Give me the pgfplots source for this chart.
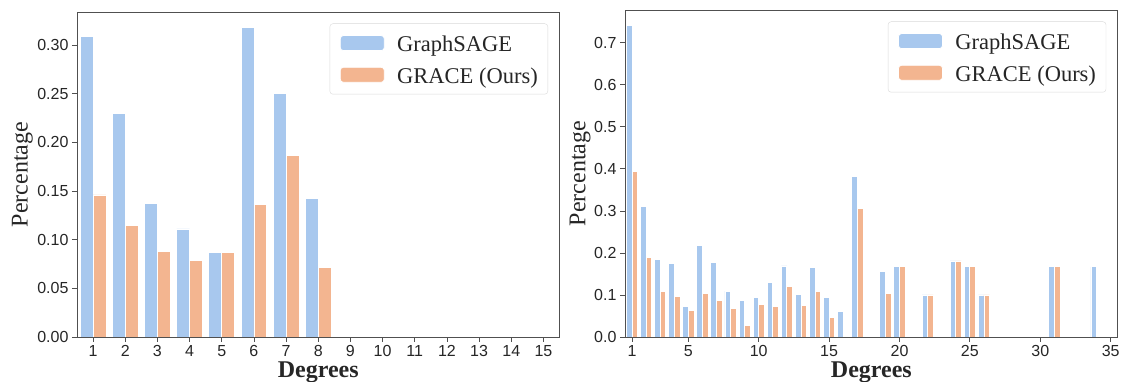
\documentclass[border=0pt]{standalone}
\usepackage{fontspec}
\setmainfont{Liberation Serif}
\newfontfamily\arial{Liberation Sans}
\usepackage{pgfplots}
\pgfplotsset{compat=1.18}
\definecolor{pblue}{HTML}{A8C8EE}
\definecolor{porange}{HTML}{F3B590}
\definecolor{txt}{HTML}{262626}
\definecolor{spine}{HTML}{505050}
\pgfplotsset{
  mystyle/.style={
    scale only axis,
    axis on top,
    ybar, bar width=0.4,
    ymin=0,
    axis line style={spine, line width=0.8pt},
    tick style={spine, line width=0.8pt},
    tick align=outside,
    major tick length=5pt,
    tick pos=left,
    scaled y ticks=false,
    tick label style={font=\arial\fontsize{16}{18}\selectfont, text=txt},
    /pgf/number format/assume math mode=true,
    every axis x label/.style={at={(axis description cs:0.5,0)}, anchor=base, yshift=-40.5pt,
      font=\bfseries\fontsize{24}{26}\selectfont, text=txt},
    legend style={at={(1,1)}, anchor=north east, xshift=-11.5pt, yshift=-11.5pt,
      draw=black!15, rounded corners=3pt, fill=white,
      inner xsep=10pt, inner ysep=6pt, row sep=4.9pt, column sep=12.5pt,
      font=\fontsize{22.5}{24}\selectfont, text=txt,
      nodes={inner sep=0pt, text height=22pt, text depth=4.8pt}},
    legend cell align=left,
  },
  bluebar/.style={fill=pblue, draw=white, line width=0.8pt, bar shift=-0.2,
    legend image code/.code={\draw[fill=pblue, draw=white, line width=0.8pt] (0pt,-7.5pt) rectangle (44pt,7.5pt);}},
  orangebar/.style={fill=porange, draw=white, line width=0.8pt, bar shift=0.2,
    legend image code/.code={\draw[fill=porange, draw=white, line width=0.8pt] (0pt,-7.5pt) rectangle (44pt,7.5pt);}},
}
\begin{document}
\begin{tikzpicture}
\useasboundingbox (0pt,0pt) rectangle (1122pt,382pt);
% Left panel
\begin{axis}[mystyle,
  at={(77pt,45pt)}, anchor=south west,
  width=482.5pt, height=325pt,
  xmin=0.5, xmax=15.5, ymax=0.334,
  xtick={1,2,3,4,5,6,7,8,9,10,11,12,13,14,15},
  ytick={0,0.05,0.1,0.15,0.2,0.25,0.3},
  yticklabel style={/pgf/number format/.cd, fixed, fixed zerofill, precision=2},
  xlabel={Degrees}, ylabel={Percentage},
  every axis y label/.style={at={(axis description cs:-0.1135,0.5)}, rotate=90, anchor=center,
    font=\fontsize{24}{26}\selectfont, text=txt},
]
\addplot[bluebar] coordinates {(1,0.309) (2,0.230) (3,0.137) (4,0.111) (5,0.0866) (6,0.318) (7,0.250) (8,0.1425)};
\addlegendentry{GraphSAGE}
\addplot[orangebar] coordinates {(1,0.146) (2,0.1147) (3,0.088) (4,0.079) (5,0.0866) (6,0.136) (7,0.187) (8,0.0712)};
\addlegendentry{GRACE (Ours)}
\end{axis}
% Right panel
\begin{axis}[mystyle,
  at={(625pt,45pt)}, anchor=south west,
  width=492.7pt, height=327pt,
  xmin=0.5, xmax=35.5, ymax=0.778,
  xtick={1,5,10,15,20,25,30,35},
  ytick={0,0.1,0.2,0.3,0.4,0.5,0.6,0.7},
  yticklabel style={/pgf/number format/.cd, fixed, fixed zerofill, precision=1},
  xlabel={Degrees}, ylabel={Percentage},
  every axis y label/.style={at={(axis description cs:-0.0913,0.5)}, rotate=90, anchor=center,
    font=\fontsize{24}{26}\selectfont, text=txt},
]
\addplot[bluebar] coordinates {(1,0.741) (2,0.310) (3,0.185) (4,0.175) (5,0.072) (6,0.218) (7,0.178) (8,0.109) (9,0.086) (10,0.094) (11,0.130) (12,0.169) (13,0.101) (14,0.165) (15,0.094) (16,0.060) (17,0.383) (19,0.157) (20,0.167) (22,0.100) (24,0.181) (25,0.167) (26,0.100) (31,0.167) (34,0.167)};
\addlegendentry{GraphSAGE}
\addplot[orangebar] coordinates {(1,0.394) (2,0.189) (3,0.109) (4,0.097) (5,0.064) (6,0.104) (7,0.088) (8,0.068) (9,0.028) (10,0.078) (11,0.073) (12,0.121) (13,0.076) (14,0.109) (15,0.046) (17,0.306) (19,0.103) (20,0.167) (22,0.100) (24,0.181) (25,0.167) (26,0.100) (31,0.167)};
\addlegendentry{GRACE (Ours)}
\end{axis}
\end{tikzpicture}
\end{document}
